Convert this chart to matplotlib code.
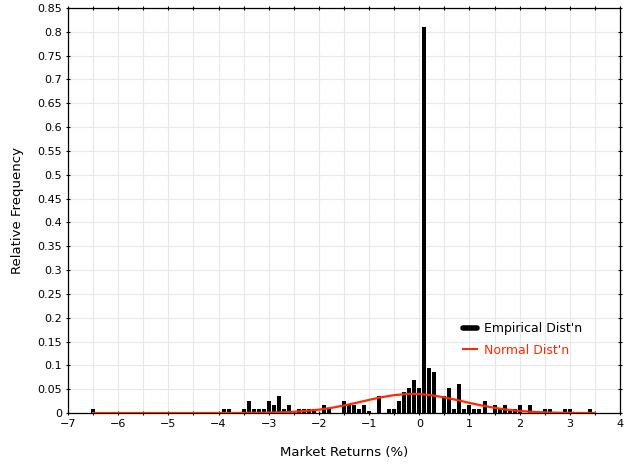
import numpy as np
import matplotlib
matplotlib.use("Agg")
import matplotlib.pyplot as plt
from matplotlib.lines import Line2D
from matplotlib.ticker import MultipleLocator, FuncFormatter

# empirical histogram (bin centre, relative frequency)
bin_centers = [-6.5, -3.9, -3.8, -3.5, -3.4, -3.3, -3.2, -3.1, -3.0, -2.9,
               -2.8, -2.7, -2.6, -2.4, -2.3, -2.2, -2.1, -1.9, -1.8, -1.5,
               -1.4, -1.3, -1.2, -1.1, -1.0, -0.8, -0.6, -0.5, -0.4, -0.3,
               -0.2, -0.1, 0.0, 0.1, 0.2, 0.3, 0.5, 0.6, 0.7, 0.8,
               0.9, 1.0, 1.1, 1.2, 1.3, 1.5, 1.6, 1.7, 1.8, 1.9,
               2.0, 2.2, 2.5, 2.6, 2.9, 3.0, 3.4]
rel_freq = [0.008, 0.008, 0.008, 0.008, 0.025, 0.008, 0.008, 0.008, 0.025, 0.017,
            0.036, 0.008, 0.017, 0.008, 0.008, 0.008, 0.008, 0.017, 0.008, 0.025,
            0.017, 0.017, 0.008, 0.017, 0.004, 0.036, 0.008, 0.008, 0.025, 0.044,
            0.052, 0.069, 0.052, 0.81, 0.094, 0.086, 0.036, 0.052, 0.008, 0.061,
            0.008, 0.017, 0.008, 0.008, 0.025, 0.017, 0.008, 0.017, 0.008, 0.008,
            0.017, 0.017, 0.008, 0.008, 0.008, 0.008, 0.008]

# fitted normal curve
normal_x = [-6.5, -6.0, -5.5, -5.0, -4.5, -4.0, -3.5, -3.25, -3.0, -2.75,
            -2.5, -2.25, -2.0, -1.75, -1.5, -1.25, -1.0, -0.75, -0.5, -0.25,
            0.0, 0.25, 0.5, 0.75, 1.0, 1.25, 1.5, 1.75, 2.0, 2.25,
            2.5, 2.75, 3.0, 3.25, 3.5]
normal_y = [0.0, 0.0, 0.0, 0.0, 0.0, 0.0001, 0.0002, 0.0004, 0.0008, 0.0015,
            0.0026, 0.0044, 0.0070, 0.0108, 0.0158, 0.0215, 0.0275, 0.0332, 0.0375, 0.0398,
            0.0398, 0.0372, 0.0328, 0.0272, 0.0212, 0.0156, 0.0108, 0.0070, 0.0042, 0.0024,
            0.0013, 0.0006, 0.0003, 0.0001, 0.0]

red = "#ff2a00"

fig = plt.figure(figsize=(6.26, 4.68), dpi=100)
ax = fig.add_axes([68/626, 55/468, 552/626, 405/468])

ax.bar(bin_centers, rel_freq, width=0.08, color="black", zorder=2)
ax.plot(normal_x, normal_y, color=red, lw=1.6, zorder=3)

ax.set_xlim(-7, 4)
ax.set_ylim(0, 0.85)
ax.xaxis.set_major_locator(MultipleLocator(1))
ax.xaxis.set_minor_locator(MultipleLocator(0.5))
ax.yaxis.set_major_locator(MultipleLocator(0.05))
ax.yaxis.set_major_formatter(FuncFormatter(lambda v, p: "%g" % round(v, 2)))
ax.xaxis.set_major_formatter(FuncFormatter(lambda v, p: ("%g" % v).replace("-", "\u2212")))
ax.grid(True, which="both", color="#e8e8e8", lw=0.8, zorder=0)
ax.set_axisbelow(True)
ax.tick_params(which="both", direction="inout", top=True, right=True,
               labelsize=8, length=3, width=0.8, pad=3)
for s in ax.spines.values():
    s.set_linewidth(0.9)

ax.set_xlabel("Market Returns (%)", fontsize=9.5, labelpad=12)
ax.set_ylabel("Relative Frequency", fontsize=9.5, labelpad=9)

handles = [Line2D([], [], color="black", lw=4, solid_capstyle="round"),
           Line2D([], [], color=red, lw=1.5)]
leg = ax.legend(handles, ["Empirical Dist'n", "Normal Dist'n"], frameon=False,
                loc="upper left", bbox_to_anchor=(0.716, 0.225), fontsize=9,
                handlelength=1.1, handletextpad=0.6, labelspacing=0.7,
                borderaxespad=0, borderpad=0)
leg.get_texts()[1].set_color(red)

fig.savefig("out.png", dpi=100)
